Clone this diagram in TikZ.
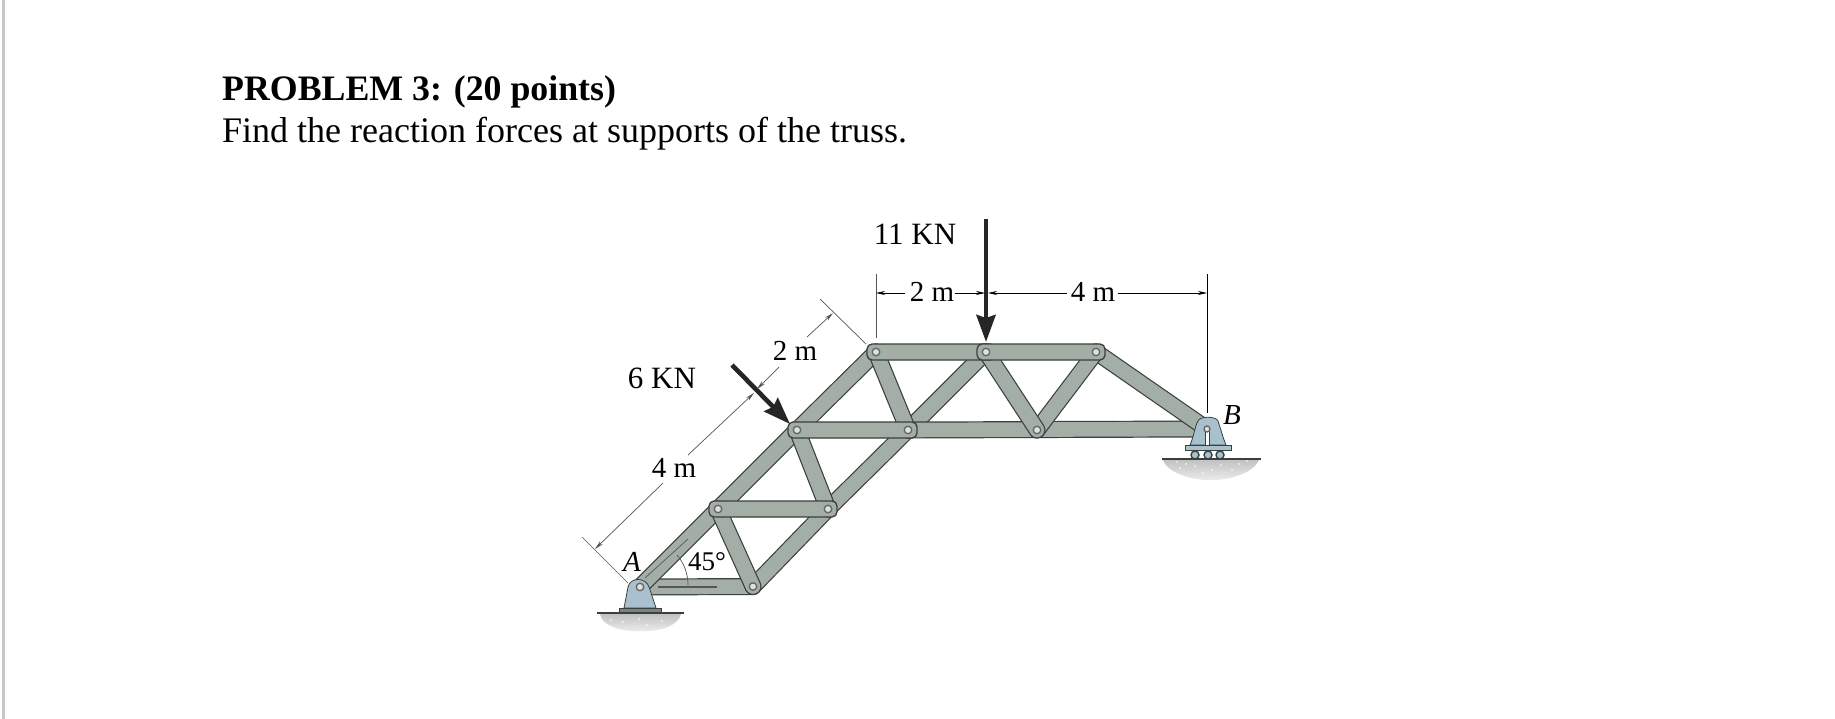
\documentclass[tikz,border=0pt]{standalone}
\usepackage{fontspec}
\setmainfont{Liberation Serif}
\usetikzlibrary{arrows.meta,shadings}
\definecolor{band}{HTML}{A3AEA6}
\definecolor{edge}{HTML}{3A403C}
\definecolor{steel}{HTML}{A9C1CE}
\definecolor{dimc}{HTML}{555555}
\tikzset{
  memb/.style={draw=edge,line width=1.2pt,double=band,double distance=14.6pt,line cap=round},
  hbar/.style={draw=edge,fill=band,line width=1.3pt,rounded corners=5pt},
  pinj/.style={circle,draw=edge!80,fill=black!12,line width=1.3pt,minimum size=7.5pt,inner sep=0pt},
  dimln/.style={draw=dimc,line width=.7pt},
  dimarr/.style={dimln,-{Stealth[length=9pt,width=4pt]}},
  force/.style={draw=black!85,line width=4.6pt,-{Stealth[length=27pt,width=19pt,inset=3pt]}},
  ttl/.style={anchor=base west,inner sep=0pt,font=\fontsize{36}{36}\selectfont},
  lab/.style={inner sep=0pt,font=\fontsize{31}{31}\selectfont},
  dlab/.style={inner sep=0pt,font=\fontsize{29}{29}\selectfont},
  solid steel/.style={fill=steel,draw=edge,line width=.8pt},
  soil/.style={top color=black!24,bottom color=black!7,draw=none},
  speck/.style={fill=white},
}
\begin{document}
\begin{tikzpicture}[x=1pt,y=-1pt]
\useasboundingbox (0,0) rectangle (1835,719);
\fill[white] (0,0) rectangle (1835,719);
\fill[black!22] (2,0) rectangle (5,719);
\node[ttl,font=\fontsize{35.8}{36}\selectfont\bfseries] (title) at (222,101) {PROBLEM 3: (20 points)};
\node[ttl] (sub) at (222,143) {Find the reaction forces at supports of the truss.};
% joints
\coordinate (A) at (640,587);
\coordinate (C) at (753,586.5);
\coordinate (D) at (718,509);
\coordinate (E) at (828,509);
\coordinate (F) at (797,430);
\coordinate (G) at (908,430);
\coordinate (H) at (876,352);
\coordinate (I) at (986,352);
\coordinate (J) at (1096,352);
\coordinate (K) at (1037,430);
\coordinate (B) at (1207,429);
% ground
\shade[soil] (600,614) .. controls (602,626) and (622,632) .. (640,631) .. controls (660,632) and (678,626) .. (681,614) -- cycle;
\shade[soil] (1163,460) .. controls (1168,474) and (1195,481) .. (1212,480) .. controls (1232,480) and (1254,472) .. (1259,460) -- cycle;
\foreach \x/\y in {611/620,623/622,639/619,662/621,647/625,1180/468,1186/464,1195/466,1203/473,1221/465,1232/470,1239/464,1247/461,1177/462,1212/470}
  \fill[speck] (\x,\y) circle (.9pt);
% members
\draw[memb] (A) -- (C);
\draw[memb] (A) -- (D);
\draw[memb] (D) -- (F);
\draw[memb] (F) -- (H);
\draw[memb] (C) -- (E);
\draw[memb] (E) -- (G);
\draw[memb] (G) -- (I);
\draw[memb] (G) -- (B);
\draw[memb] (J) -- (B);
\draw[memb] (K) -- (J);
\draw[memb] (I) -- (K);
\draw[memb] (H) -- (G);
\draw[memb] (E) -- (F);
\draw[memb] (D) -- (C);
\draw[hbar] ([shift={(-9,-8)}]D) rectangle ([shift={(9,8)}]E);
\draw[hbar] ([shift={(-9,-8)}]F) rectangle ([shift={(9,8)}]G);
\draw[hbar] ([shift={(-9,-8)}]H) rectangle ([shift={(9,8)}]I);
\draw[hbar] ([shift={(-9,-8)}]I) rectangle ([shift={(9,8)}]J);
% pins
\foreach \j in {C,D,E,F,G,H,I,J,K} \node[pinj] (pin\j) at (\j) {};
% support A
\draw[solid steel] (624,608) -- (628,587) .. controls (630,577) and (646,577) .. (649,587) -- (656,608) -- cycle;
\draw[fill=black!50,draw=edge,line width=.8pt] (619,608) rectangle (661,612);
\node[pinj] (pinA) at (A) {};
\draw[edge,line width=1.2pt] (597,613) -- (684,613);
% support B
\draw[solid steel] (1190,445) .. controls (1194,436) and (1195,426) .. (1198,421) .. controls (1200,416) and (1216,416) .. (1218,421) .. controls (1221,430) and (1223,438) .. (1226,445) -- cycle;
\draw[fill=white,draw=edge,line width=.7pt] (1205,430) rectangle (1209,445);
\node[pinj,minimum size=6pt] (pinB) at (1207,429) {};
\draw[fill=steel,draw=edge,line width=.8pt] (1185,445) rectangle (1231,450);
\foreach \x/\n in {1195/a,1208/b,1220/c} \node[circle,draw=edge,fill=steel,line width=1.4pt,minimum size=8pt,inner sep=0pt] (roll\n) at (\x,455) {};
\draw[edge,line width=1.2pt] (1162,459) -- (1261,459);
% forces
\coordinate (f6s) at (732,365);
\coordinate (f6e) at (790,424);
\coordinate (f11s) at (986,219);
\coordinate (f11e) at (986,342);
\draw[force] (f6s) -- (f6e);
\draw[force] (f11s) -- (f11e);
% labels
\node[lab] (l6) at (662,378) {6 KN};
\node[lab] (l11) at (915,234) {11 KN};
\node[dlab] (d4a) at (674,468) {4 m};
\node[dlab] (d2a) at (795,351) {2 m};
\node[dlab] (d2b) at (932,292) {2 m};
\node[dlab] (d4b) at (1093,292) {4 m};
\node[dlab,font=\fontsize{29}{29}\selectfont\itshape] (la) at (632,562) {A};
\node[dlab,font=\fontsize{29}{29}\selectfont\itshape] (lb) at (1232,415) {B};
\node[inner sep=0pt,font=\fontsize{27}{27}\selectfont] (ang) at (707,562) {45°};
% dimension coordinates
\coordinate (e1a) at (582,537); \coordinate (e1b) at (628,583);
\coordinate (e2a) at (820,299); \coordinate (e2b) at (866,344);
\coordinate (m1) at (595,549); \coordinate (m2) at (663,483);
\coordinate (m3) at (688,455); \coordinate (m4) at (754,393);
\coordinate (m5) at (757,389); \coordinate (m6) at (779,367);
\coordinate (m7) at (807,337); \coordinate (m8) at (833,313);
\coordinate (h1) at (876,293); \coordinate (h2) at (905,293);
\coordinate (h3) at (955,293); \coordinate (h4) at (985,293);
\coordinate (h5) at (988,293); \coordinate (h6) at (1067,293);
\coordinate (h7) at (1118,293); \coordinate (h8) at (1207,293);
\coordinate (v1a) at (876,274); \coordinate (v1b) at (876,338);
\coordinate (v2a) at (1207,274); \coordinate (v2b) at (1207,413);
\draw[dimln] (e1a) -- (e1b);
\draw[dimln] (e2a) -- (e2b);
\draw[dimln] (v1a) -- (v1b);
\draw[dimln,black] (v2a) -- (v2b);
\draw[dimarr] (m2) -- (m1);
\draw[dimarr] (m3) -- (m4);
\draw[dimarr] (m6) -- (m5);
\draw[dimarr] (m7) -- (m8);
\draw[dimarr,black] (h2) -- (h1);
\draw[dimarr,black] (h3) -- (h4);
\draw[dimarr,black] (h6) -- (h5);
\draw[dimarr,black] (h7) -- (h8);
% angle marks
\coordinate (t1) at (645,578); \coordinate (t2) at (688,539);
\coordinate (t3) at (658,587); \coordinate (t4) at (717,587);
\coordinate (t5) at (677,555); \coordinate (t6) at (688,585);
\draw[dimln] (t1) -- (t2);
\draw[dimln,line width=1.1pt] (t3) -- (t4);
\draw[dimln] (t5) .. controls (684,563) and (688,574) .. (t6);
\end{tikzpicture}
\end{document}
